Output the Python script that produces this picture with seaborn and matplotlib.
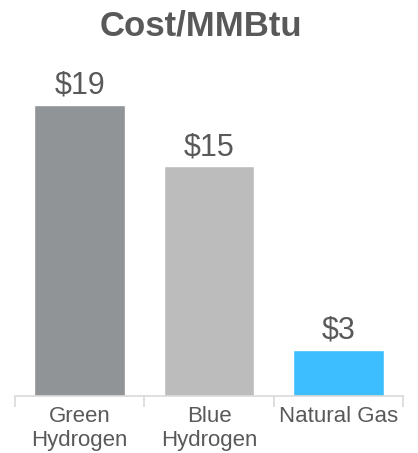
import matplotlib
matplotlib.use('Agg')
import matplotlib.pyplot as plt
import seaborn as sns
import pandas as pd

categories = ['Green\nHydrogen', 'Blue\nHydrogen', 'Natural Gas']
costs = [19, 15, 3]
bar_colors = ['#909497', '#bcbcbc', '#3dbefe']
boundaries = [-0.5, 0.5, 1.5, 2.5]

sns.set_style('white')
plt.rcParams['font.family'] = ['Liberation Sans', 'DejaVu Sans']

df = pd.DataFrame({'category': categories, 'cost': costs})

fig = plt.figure(figsize=(4.18, 4.53), dpi=100)
ax = fig.add_axes([15 / 418, 57 / 453, 388 / 418, 337 / 453])

sns.barplot(data=df, x='category', y='cost', hue='category', palette=bar_colors,
            width=0.7, saturation=1, legend=False, ax=ax)

for cont in ax.containers:
    ax.bar_label(cont, labels=['$%d' % v for v in cont.datavalues], padding=3,
                 fontsize=22, color='#595959')

ax.set_xlim(-0.5, 2.5)
ax.set_ylim(0, 22)
ax.set_xlabel('')
ax.set_ylabel('')
ax.set_yticks([])
ax.set_xticks(boundaries, minor=True)
ax.tick_params(axis='x', which='major', bottom=False, length=0, pad=7,
               labelsize=16, labelcolor='#595959')
ax.tick_params(axis='x', which='minor', bottom=True, length=8, width=1.2,
               color='#d9d9d9', direction='out')
for s in ['top', 'right', 'left']:
    ax.spines[s].set_visible(False)
ax.spines['bottom'].set_color('#d9d9d9')
ax.spines['bottom'].set_linewidth(1.2)

fig.text(0.48, 0.943, 'Cost/MMBtu', ha='center', va='center', fontsize=25,
         fontweight='bold', color='#595959')

fig.savefig('out.png', dpi=100)
